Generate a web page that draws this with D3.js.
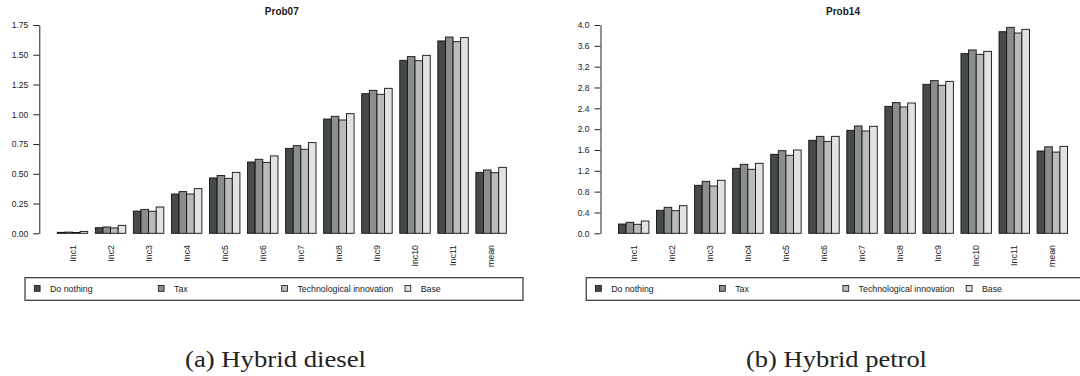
<!DOCTYPE html>
<html>
<head>
<meta charset="utf-8">
<script src="https://cdn.jsdelivr.net/npm/d3@7"></script>
<style>
  html, body { margin: 0; padding: 0; background: #ffffff; }
  svg { display: block; }
  text { font-family: "Liberation Sans", Arial, sans-serif; fill: #1a1a1a; }
  .caption { font-family: "Liberation Serif", "DejaVu Serif", serif; fill: #222; }
</style>
</head>
<body>
<svg id="chart" width="1080" height="376"></svg>
<script>
// Income classes on the x axis, plus the overall mean
const categories = ["Inc1", "Inc2", "Inc3", "Inc4", "Inc5", "Inc6", "Inc7", "Inc8", "Inc9", "Inc10", "Inc11", "mean"];
const seriesNames = ["Do nothing", "Tax", "Technological innovation", "Base"];
const seriesColors = ["#464a4a", "#8c8e8e", "#babcbc", "#e2e2e2"];

// Prob07 – hybrid diesel
const prob07DoNothing = [0.008, 0.047, 0.187, 0.330, 0.465, 0.599, 0.714, 0.960, 1.173, 1.453, 1.616, 0.512];
const prob07Tax       = [0.010, 0.053, 0.201, 0.350, 0.485, 0.622, 0.736, 0.983, 1.201, 1.484, 1.649, 0.532];
const prob07Tech      = [0.007, 0.045, 0.185, 0.330, 0.462, 0.596, 0.706, 0.952, 1.168, 1.450, 1.610, 0.509];
const prob07Base      = [0.016, 0.067, 0.221, 0.375, 0.512, 0.650, 0.762, 1.005, 1.218, 1.495, 1.644, 0.554];
const prob07Ticks = [0, 0.25, 0.5, 0.75, 1.0, 1.25, 1.5, 1.75];

// Prob14 – hybrid petrol
const prob14DoNothing = [0.178, 0.442, 0.922, 1.248, 1.517, 1.786, 1.978, 2.438, 2.861, 3.450, 3.871, 1.580];
const prob14Tax       = [0.211, 0.499, 0.998, 1.325, 1.587, 1.862, 2.061, 2.509, 2.931, 3.520, 3.955, 1.660];
const prob14Tech      = [0.173, 0.434, 0.908, 1.229, 1.498, 1.766, 1.965, 2.426, 2.842, 3.437, 3.846, 1.560];
const prob14Base      = [0.236, 0.530, 1.018, 1.344, 1.600, 1.862, 2.054, 2.502, 2.918, 3.494, 3.917, 1.670];
const prob14Ticks = [0, 0.4, 0.8, 1.2, 1.6, 2.0, 2.4, 2.8, 3.2, 3.6, 4.0];

const svg = d3.select("#chart");

function drawPanel(opts) {
  const { left, right, top, bottom, title, series, ticks, yMax, fmt, legendLeft, caption } = opts;
  const g = svg.append("g");

  const y = d3.scaleLinear().domain([0, yMax]).range([bottom, top]);

  // groups of four bars separated by one bar-width gap
  const x0 = d3.scaleBand()
    .domain(categories)
    .range([left, right])
    .paddingInner(0.2)
    .paddingOuter(0.472);
  const x1 = d3.scaleBand()
    .domain(seriesNames)
    .range([0, x0.bandwidth()]);

  const rows = categories.map((c, i) => ({
    cat: c,
    vals: seriesNames.map((s, j) => ({ name: s, value: series[j][i], color: seriesColors[j] }))
  }));

  const groups = g.selectAll("g.grp").data(rows).join("g")
    .attr("class", "grp")
    .attr("transform", d => `translate(${x0(d.cat)},0)`);

  groups.selectAll("rect").data(d => d.vals).join("rect")
    .attr("x", d => x1(d.name))
    .attr("y", d => y(d.value))
    .attr("width", x1.bandwidth())
    .attr("height", d => y(0) - y(d.value))
    .attr("fill", d => d.color)
    .attr("stroke", "#111")
    .attr("stroke-width", 0.9);

  // y axis
  const axis = d3.axisLeft(y).tickValues(ticks).tickFormat(d3.format(fmt))
    .tickSize(6).tickSizeOuter(0).tickPadding(5);
  const ax = g.append("g").attr("transform", `translate(${x0.range()[0]},0)`).call(axis);
  ax.select(".domain").attr("stroke", "#222");
  ax.selectAll(".tick line").attr("stroke", "#222");
  ax.selectAll(".tick text").style("font-size", "8.5px").attr("fill", "#1a1a1a")
    .style("font-family", "'Liberation Sans', Arial, sans-serif");

  // rotated category labels
  g.selectAll("text.cat").data(categories).join("text")
    .attr("class", "cat")
    .attr("transform", d => `translate(${x0(d) + x0.bandwidth() / 2},245) rotate(-90)`)
    .attr("text-anchor", "end")
    .attr("dy", "0.35em")
    .style("font-size", "8.8px")
    .text(d => d);

  // title
  g.append("text")
    .attr("x", (left + right) / 2)
    .attr("y", 15)
    .attr("text-anchor", "middle")
    .style("font-size", "10px")
    .style("font-weight", "bold")
    .text(title);

  // legend
  const lg = g.append("g");
  lg.append("rect")
    .attr("x", legendLeft).attr("y", 277.7)
    .attr("width", 498).attr("height", 22.6)
    .attr("fill", "none").attr("stroke", "#333").attr("stroke-width", 1.2);
  const offsets = [9.3, 133.3, 256.7, 380];
  seriesNames.forEach((s, j) => {
    const sx = legendLeft + offsets[j];
    lg.append("rect")
      .attr("x", sx).attr("y", 285.5)
      .attr("width", 5.8).attr("height", 5.8)
      .attr("fill", seriesColors[j]).attr("stroke", "#111").attr("stroke-width", 0.8);
    lg.append("text")
      .attr("x", sx + 15.7).attr("y", 291.6)
      .style("font-size", "8.8px")
      .text(s);
  });

  // sub-figure caption
  svg.append("text")
    .attr("class", "caption")
    .attr("x", caption.x)
    .attr("y", 366.5)
    .attr("textLength", 181)
    .attr("lengthAdjust", "spacingAndGlyphs")
    .style("font-size", "23px")
    .text(caption.text);
}

drawPanel({
  left: 39.3, right: 524.3, top: 25, bottom: 233.3,
  title: "Prob07",
  series: [prob07DoNothing, prob07Tax, prob07Tech, prob07Base],
  ticks: prob07Ticks, yMax: 1.75, fmt: ".2f",
  legendLeft: 25,
  caption: { x: 185, text: "(a) Hybrid diesel" }
});

drawPanel({
  left: 600.5, right: 1085.5, top: 25, bottom: 233.3,
  title: "Prob14",
  series: [prob14DoNothing, prob14Tax, prob14Tech, prob14Base],
  ticks: prob14Ticks, yMax: 4.0, fmt: ".1f",
  legendLeft: 586.2,
  caption: { x: 746, text: "(b) Hybrid petrol" }
});
</script>
</body>
</html>
